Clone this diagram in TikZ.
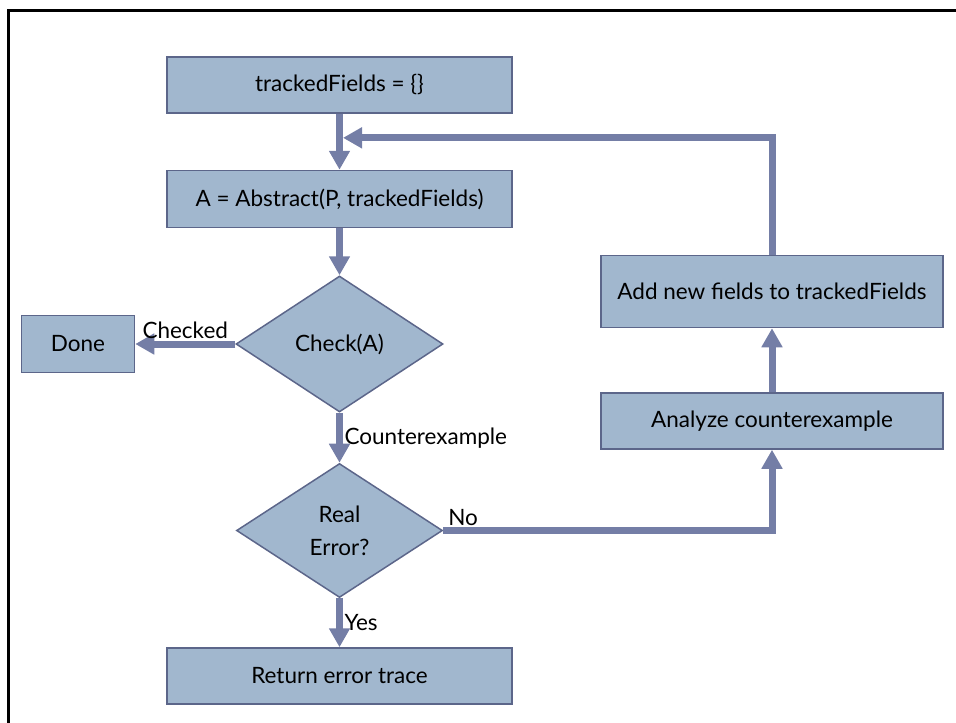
\documentclass[tikz,border=0pt]{standalone}
\usepackage{fontspec}
\setmainfont{Lato}
\usepackage{tikz}
\usetikzlibrary{shapes.geometric,arrows.meta,positioning,calc}

\definecolor{boxfill}{RGB}{161,183,206}
\definecolor{boxline}{RGB}{92,102,138}
\definecolor{flowcol}{RGB}{116,126,166}

\begin{document}
\begin{tikzpicture}[x=1pt, y=-1pt, >={Triangle[length=19pt,width=20pt]},
    every node/.style={font=\fontsize{22.5}{33}\selectfont},
    procbox/.style={draw=boxline, line width=1.5pt, rectangle, fill=boxfill, inner sep=0pt, minimum width=345pt, minimum height=56pt},
    decision/.style={draw=boxline, line width=1.5pt, diamond, fill=boxfill, inner sep=0pt, align=center},
    flow/.style={->, draw=flowcol, line width=7pt},
    lbl/.style={inner sep=1.5pt}]
    \useasboundingbox (0,0) rectangle (956,723);
    \draw [line width=3pt] (956,10) -- (8,10) -- (8,723);

    \node [procbox] (init) at (339.5,85) {trackedFields = \{\}};
    \node [procbox, minimum height=57pt, below=56pt of init] (abstr) {A = Abstract(P, trackedFields)};
    \node [decision, minimum width=207pt, minimum height=136pt, below=47pt of abstr] (check) {Check(A)};
    \node [decision, minimum width=206pt, minimum height=134pt, below=50pt of check] (real) {Real\\Error?};
    \node [procbox, below=49pt of real] (ret) {Return error trace};
    \node [procbox, minimum width=113pt, minimum height=57pt, left=100pt of check] (done) {Done};
    \node [procbox, minimum width=342pt] (analyze) at (772,421) {Analyze counterexample};
    \node [procbox, minimum width=342pt, minimum height=72pt, above=64pt of analyze] (addf) {Add new fields to trackedFields};

    \coordinate (merge) at ($(init.south)!0.43!(abstr.north)$);

    \draw [flow] (init) -- (abstr);
    \draw [flow] (abstr) -- (check);
    \draw [flow] (check.west) -- node[lbl, above] {Checked} (done);
    \draw [flow] (check) -- node[lbl, right] {Counterexample} (real);
    \draw [flow] (real) -- node[lbl, right] {Yes} (ret);
    \draw [flow] (real.east) -| node[lbl, above right, pos=0.0] {No} (analyze.south);
    \draw [flow] (analyze) -- (addf);
    \draw [flow] (addf.north) |- ([xshift=3.5pt]merge);
\end{tikzpicture}
\end{document}
